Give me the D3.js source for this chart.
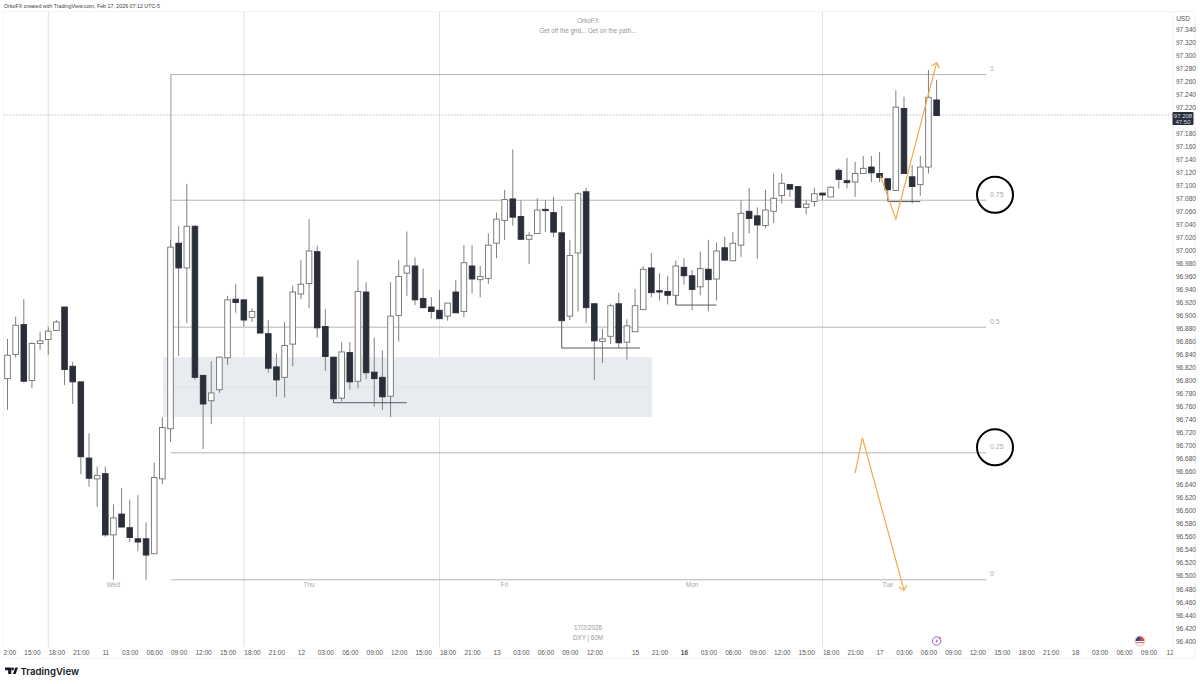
<!DOCTYPE html>
<html><head><meta charset="utf-8">
<script src="https://cdn.jsdelivr.net/npm/d3@7"></script>
<style>
html,body{margin:0;padding:0;background:#fff;overflow:hidden}
svg{display:block;font-family:"Liberation Sans",Arial,sans-serif}
.domain{display:none}
</style></head><body>
<svg id="c" width="1200" height="684"></svg>
<script>
const opens=[96.803,96.840,96.886,96.800,96.857,96.863,96.877,96.913,96.822,96.798,
96.681,96.649,96.657,96.563,96.595,96.574,96.557,96.557,96.534,96.649,
96.726,97.011,96.973,97.037,96.808,96.769,96.786,96.835,96.925,96.924,
96.897,96.959,96.872,96.821,96.805,96.856,96.933,96.949,96.998,96.883,
96.836,96.773,96.843,96.799,96.936,96.813,96.805,96.776,96.900,96.965,
96.976,96.926,96.913,96.908,96.899,96.936,96.906,96.976,96.955,96.957,
97.011,97.046,97.079,97.052,97.017,97.026,97.063,97.058,97.027,96.899,
96.996,97.090,96.918,96.860,96.868,96.918,96.859,96.875,96.909,96.973,
96.938,96.937,96.931,96.974,96.961,96.944,96.971,96.956,97.004,96.984,
97.008,97.060,97.053,97.038,97.060,97.084,97.101,97.098,97.066,97.075,
97.088,97.082,97.123,97.107,97.105,97.118,97.128,97.118,97.110,97.092,
97.218,97.113,97.101,97.128,97.231];
const closes=[96.839,96.885,96.799,96.857,96.861,96.876,96.890,96.817,96.798,96.683,
96.650,96.654,96.563,96.589,96.575,96.559,96.552,96.532,96.651,96.728,
97.005,96.973,97.037,96.805,96.764,96.781,96.836,96.924,96.920,96.893,
96.906,96.873,96.819,96.801,96.854,96.936,96.948,96.999,96.881,96.837,
96.772,96.844,96.798,96.937,96.812,96.803,96.775,96.899,96.960,96.976,
96.924,96.912,96.906,96.895,96.919,96.904,96.981,96.956,96.960,97.008,
97.048,97.078,97.051,97.017,97.023,97.062,97.061,97.028,96.892,96.992,
97.087,96.912,96.861,96.864,96.915,96.858,96.884,96.915,96.971,96.935,
96.936,96.931,96.976,96.961,96.940,96.972,96.955,96.999,96.985,97.011,
97.057,97.049,97.039,97.062,97.080,97.103,97.094,97.066,97.071,97.087,
97.085,97.097,97.109,97.104,97.118,97.126,97.119,97.112,97.093,97.220,
97.118,97.098,97.128,97.235,97.207];
const highs=[96.864,96.898,96.925,96.859,96.875,96.883,96.893,96.913,96.829,96.798,
96.719,96.668,96.668,96.610,96.635,96.617,96.624,96.582,96.674,96.744,
97.016,97.037,97.102,97.039,96.809,96.830,96.836,96.930,96.948,96.924,
96.911,96.959,96.893,96.842,96.890,96.946,96.985,97.048,97.007,96.910,
96.836,96.859,96.859,96.985,96.951,96.866,96.846,96.951,96.985,97.029,
96.989,96.972,96.928,96.939,96.919,96.954,97.008,97.008,96.976,97.026,
97.058,97.093,97.155,97.077,97.028,97.080,97.077,97.082,97.068,97.016,
97.089,97.096,96.918,96.879,96.918,96.935,96.894,96.941,96.976,96.996,
96.965,96.961,96.984,96.988,96.970,96.998,97.016,97.012,97.021,97.028,
97.077,97.096,97.066,97.093,97.118,97.118,97.101,97.098,97.077,97.096,
97.088,97.098,97.126,97.142,97.136,97.145,97.145,97.151,97.110,97.246,
97.236,97.131,97.145,97.277,97.262];
const lows=[96.755,96.835,96.797,96.788,96.847,96.839,96.877,96.793,96.764,96.656,
96.637,96.606,96.560,96.494,96.575,96.552,96.538,96.494,96.534,96.641,
96.706,96.838,96.888,96.801,96.695,96.733,96.781,96.824,96.904,96.883,
96.890,96.873,96.812,96.775,96.774,96.822,96.925,96.911,96.866,96.815,
96.766,96.768,96.786,96.788,96.802,96.760,96.755,96.744,96.860,96.930,
96.916,96.911,96.895,96.895,96.892,96.904,96.897,96.934,96.928,96.948,
96.988,97.016,97.038,97.016,96.979,97.025,97.028,97.020,96.892,96.893,
96.906,96.888,96.801,96.827,96.856,96.850,96.832,96.875,96.909,96.928,
96.923,96.917,96.916,96.947,96.908,96.931,96.906,96.923,96.985,96.984,
96.990,97.026,96.987,97.034,97.042,97.072,97.082,97.066,97.055,97.067,
97.077,97.082,97.095,97.095,97.082,97.118,97.105,97.105,97.075,97.092,
97.118,97.072,97.084,97.118,97.207];

const priceTicks=d3.range(0,48).map(i=>+(96.40+i*0.02).toFixed(2)).filter(p=>p!==97.2);
const timeIndex=[0,3,6,9,12,15,18,21,24,27,30,33,36,39,42,45,48,51,54,57,60,63,66,69,72,77,80,83,86,89,92,95,98,101,104,107,110,113,116,119,122,125,128,131,134,137,140,142.6];
const timeLabels=["12:00","15:00","18:00","21:00","11","03:00","06:00","09:00","12:00","15:00","18:00","21:00","12","03:00","06:00","09:00","12:00","15:00","18:00","21:00","13","03:00","06:00","09:00","12:00","15","21:00","16","03:00","06:00","09:00","12:00","15:00","18:00","21:00","17","03:00","06:00","09:00","12:00","15:00","18:00","21:00","18","03:00","06:00","09:00","12"];
const sessionBreaks=[5,29,53,100];
const dayIndex=[13,37,61,84,108];
const dayNames=["Wed","Thu","Fri","Mon","Tue"];
const fibLevels=[97.270,97.077,96.882,96.689,96.494];
const fibNames=["1","0.75","0.5","0.25","0"];
const fibStart=20.05, fibEnd=120.1;
const zoneIdx=[19.1,79.1], zonePrice=[96.836,96.744];
const lastPrice=97.208;
const sweepLines=[
 [[40,96.772],[40,96.766],[49,96.766]],
 [[68,96.892],[68,96.850],[77.6,96.850]],
 [[82,96.931],[82,96.916],[87,96.916]],
 [[108,97.075],[112,97.075]]
];
const orangeUp=[[107.1,97.115],[109,97.048],[114,97.288]];
const orangeDown=[[104,96.658],[104.9,96.712],[110,96.478]];

const W=1200,H=684;
const x=d3.scaleLinear().domain([0,114]).range([7.5,936.6]);
const y=d3.scaleLinear().domain([96.40,97.34]).range([641,29]);
const svg=d3.select("#c");
const defs=svg.append("defs");
defs.append("clipPath").attr("id","axclip").append("rect").attr("x",4).attr("y",640).attr("width",1169).attr("height",20);
const line=d3.line().x(d=>x(d[0])).y(d=>y(d[1]));

// frame
svg.append("rect").attr("x",3.5).attr("y",11.5).attr("width",1191.5).attr("height",646.5).attr("fill","none").attr("stroke","#f3f4f8");
svg.append("line").attr("x1",1173.5).attr("x2",1173.5).attr("y1",11).attr("y2",658).attr("stroke","#f3f4f8");

// session breaks
svg.append("g").selectAll("line").data(sessionBreaks).join("line")
 .attr("x1",d=>x(d)).attr("x2",d=>x(d)).attr("y1",12).attr("y2",647)
 .attr("stroke","#e0e0e0").attr("stroke-width",1);

// zone
svg.append("rect").attr("x",x(zoneIdx[0])).attr("y",y(zonePrice[0]))
 .attr("width",x(zoneIdx[1])-x(zoneIdx[0])).attr("height",y(zonePrice[1])-y(zonePrice[0])).attr("fill","#e8ebf0");
svg.append("line").attr("x1",x(zoneIdx[0])).attr("x2",x(zoneIdx[1]))
 .attr("y1",y((zonePrice[0]+zonePrice[1])/2)).attr("y2",y((zonePrice[0]+zonePrice[1])/2))
 .attr("stroke","#d8dbe2").attr("stroke-width",0.8).attr("stroke-dasharray","2 2");

// fib
svg.append("line").attr("x1",x(fibStart)).attr("x2",x(fibStart)).attr("y1",y(fibLevels[0])).attr("y2",y(97.0)).attr("stroke","#9a9a9a");
svg.append("g").selectAll("line").data(fibLevels).join("line")
 .attr("x1",x(fibStart)).attr("x2",x(fibEnd)).attr("y1",d=>y(d)).attr("y2",d=>y(d))
 .attr("stroke","#b4b4b4").attr("stroke-width",1);
svg.append("g").selectAll("text").data(fibLevels).join("text")
 .attr("x",990).attr("y",(d,i)=>y(d)-3.5).text((d,i)=>fibNames[i])
 .attr("font-size",7).attr("fill","#aaaaaa");

// last price
svg.append("line").attr("x1",4).attr("x2",1173).attr("y1",y(lastPrice)).attr("y2",y(lastPrice))
 .attr("stroke","#a0a0a0").attr("stroke-width",0.7).attr("stroke-dasharray","1.5 1.5");

// candles
const idx=d3.range(opens.length);
const c=svg.append("g");
c.selectAll("line").data(idx).join("line")
 .attr("x1",i=>x(i)).attr("x2",i=>x(i)).attr("y1",i=>y(highs[i])).attr("y2",i=>y(lows[i]))
 .attr("stroke","#808080").attr("stroke-width",1);
c.selectAll("rect").data(idx).join("rect")
 .attr("x",i=>x(i)-2.8).attr("width",5.6)
 .attr("y",i=>y(Math.max(opens[i],closes[i])))
 .attr("height",i=>Math.max(1,Math.abs(y(opens[i])-y(closes[i]))))
 .attr("fill",i=>closes[i]>=opens[i]?"#ffffff":"#2a2e39")
 .attr("stroke",i=>closes[i]>=opens[i]?"#707070":"#2a2e39").attr("stroke-width",0.9);

// sweep lines
svg.append("g").selectAll("path").data(sweepLines).join("path")
 .attr("d",line).attr("fill","none").attr("stroke","#555a63").attr("stroke-width",1);

// orange
function arrow(pts){
 svg.append("path").attr("d",line(pts)).attr("fill","none").attr("stroke","#f2ab45").attr("stroke-width",1.2);
 const n=pts.length, a=pts[n-2], b=pts[n-1];
 const px=x(b[0]),py=y(b[1]);
 const ang=Math.atan2(py-y(a[1]),px-x(a[0]));
 const L=6, w=0.75;
 const p=`M${px-L*Math.cos(ang-w)},${py-L*Math.sin(ang-w)}L${px},${py}L${px-L*Math.cos(ang+w)},${py-L*Math.sin(ang+w)}`;
 svg.append("path").attr("d",p).attr("fill","none").attr("stroke","#f2ab45").attr("stroke-width",1.2);
}
arrow(orangeUp); arrow(orangeDown);

// circles
[1,3].forEach(i=>{
 svg.append("circle").attr("cx",995).attr("cy",y(fibLevels[i])-5.5).attr("r",18)
  .attr("fill","none").attr("stroke","#000").attr("stroke-width",2);
});
// price axis
const ay=svg.append("g").attr("transform","translate(1173,0)")
 .call(d3.axisRight(y).tickValues(priceTicks).tickSize(0).tickPadding(3).tickFormat(d3.format(".3f")));
ay.selectAll("text").attr("font-size",6.5).attr("fill","#555555").attr("font-family","Liberation Sans,Arial,sans-serif");
svg.append("text").attr("x",1183).attr("y",20.5).attr("text-anchor","middle").attr("font-size",6.5).attr("fill","#555555").text("USD");

// last price label
svg.append("rect").attr("x",1172.5).attr("y",112).attr("width",21).attr("height",13).attr("rx",1).attr("fill","#2a2e39");
svg.append("text").attr("x",1183).attr("y",118).attr("text-anchor","middle").attr("font-size",6).attr("fill","#d8dae0").text(d3.format(".3f")(lastPrice));
svg.append("text").attr("x",1183).attr("y",124).attr("text-anchor","middle").attr("font-size",6).attr("fill","#d8dae0").text("47:50");

// time axis
const ax=svg.append("g").attr("clip-path","url(#axclip)").append("g").attr("transform","translate(0,647)")
 .call(d3.axisBottom(x).tickValues(timeIndex).tickSize(0).tickPadding(3).tickFormat((d,i)=>timeLabels[i]));
ax.selectAll("text").attr("font-size",6.5).attr("fill","#555555").attr("font-family","Liberation Sans,Arial,sans-serif")
 .attr("font-weight",(d,i)=>timeLabels[i]==="16"?"bold":"normal");

// day labels
svg.append("g").selectAll("text").data(dayIndex).join("text")
 .attr("x",d=>x(d)).attr("y",587).attr("text-anchor","middle").attr("font-size",6.5).attr("fill","#a8a8a8")
 .text((d,i)=>dayNames[i]);

// titles
const center=(t,yy,col,sz)=>svg.append("text").attr("x",588).attr("y",yy).attr("text-anchor","middle").attr("font-size",sz).attr("fill",col).text(t);
center("OrkoFX",22.5,"#969696",6.3);
center("Get off the grid... Get on the path...",33,"#969696",6.3);
center("17/2/2026",629.5,"#969696",6.3);
center("DXY | 60M",639.5,"#969696",6.3);
svg.append("text").attr("x",4).attr("y",8).attr("font-size",5.3).attr("fill","#3c3c3c").text("OrkoFX created with TradingView.com, Feb 17, 2026 07:12 UTC-5");

// icons
const ev=svg.append("g").attr("transform","translate(936.7,641)");
ev.append("circle").attr("r",4.2).attr("fill","#fff").attr("stroke","#9b5fc0").attr("stroke-width",1);
ev.append("path").attr("d","M0.8,-2.6L-1.5,0.4H0L-0.8,2.6L1.6,-0.5H0.1Z").attr("fill","#9b5fc0");
ev.append("circle").attr("cx",3.2).attr("cy",-3).attr("r",1).attr("fill","#d0508f");
const fl=svg.append("g").attr("transform","translate(1140,641)");
fl.append("circle").attr("r",5.6).attr("fill","#f8c9c9");
fl.append("circle").attr("r",4.4).attr("fill","#fff");
fl.append("path").attr("d","M-4.4,0A4.4,4.4 0 0 1 4.4,0Z").attr("fill","#c94a4a");
fl.append("path").attr("d","M-4,1.6H4").attr("stroke","#d86060").attr("stroke-width",1);
fl.append("path").attr("d","M-4.4,0A4.4,4.4 0 0 1 0,-4.4V0Z").attr("fill","#2f4a8c");

// logo
const lg=svg.append("g").attr("fill","#131722");
lg.append("path").attr("d","M5,667.5H11.3V674H8.2V670.3H5Z");
lg.append("circle").attr("cx",12.6).attr("cy",669).attr("r",1.4);
lg.append("path").attr("d","M13,674L15.3,667.5H18L15.6,674Z");
svg.append("text").attr("x",20.5).attr("y",674.5).attr("font-family","Inter,'Liberation Sans',sans-serif").attr("font-weight",600).attr("font-size",9.6).attr("fill","#131722").text("TradingView");
</script>
</body></html>
